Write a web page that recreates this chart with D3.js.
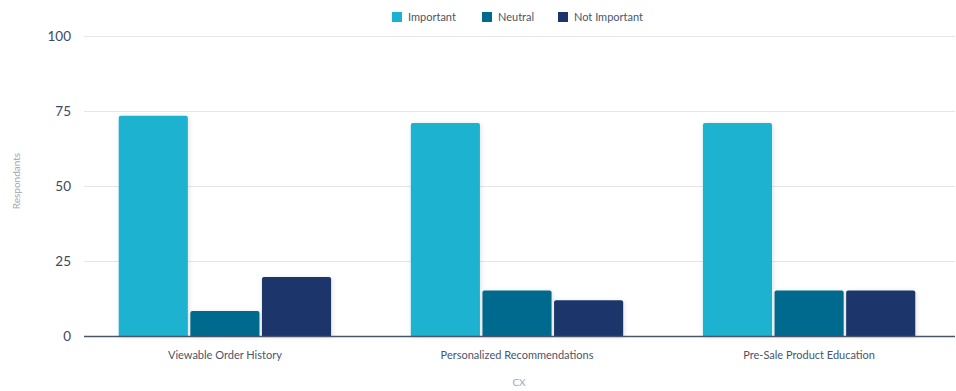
<!DOCTYPE html>
<html><head><meta charset="utf-8">
<script src="https://cdn.jsdelivr.net/npm/d3@7"></script>
<style>body{margin:0;background:#fff;font-family:Lato,"Open Sans",sans-serif;}</style>
</head><body><svg id="c" width="956" height="391"></svg>
<script>
const categories = ["Viewable Order History", "Personalized Recommendations", "Pre-Sale Product Education"];
const seriesNames = ["Important", "Neutral", "Not Important"];
const important = [73.4, 71.0, 71.0];
const neutral = [8.3, 15.2, 15.2];
const notImportant = [19.7, 11.9, 15.2];
const yTicks = [0, 25, 50, 75, 100];
const colors = ["#1ab2d0", "#006a8e", "#1c366b"];

const seriesValues = [important, neutral, notImportant];
const svg = d3.select("#c");
const W = 956, H = 391;
const m = {left: 79, right: 1, top: 36, bottom: 55};
const x0 = d3.scaleBand().domain(categories).range([m.left, W - m.right]).paddingInner(0.273).paddingOuter(0.136);
const x1 = d3.scaleBand().domain(seriesNames).range([0, x0.bandwidth()]).paddingInner(0.035);
const y = d3.scaleLinear().domain([0, 100]).range([H - m.bottom, m.top]);

const defs = svg.append("defs");
const f = defs.append("filter").attr("id","sh").attr("x","-20%").attr("y","-20%").attr("width","160%").attr("height","140%");
f.append("feDropShadow").attr("dx",1).attr("dy",1).attr("stdDeviation",2.5).attr("flood-color","#000").attr("flood-opacity",0.12);

// grid
const gx0 = 84;
svg.append("g").selectAll("line").data(yTicks.filter(d=>d>0)).join("line")
  .attr("x1", gx0).attr("x2", W - m.right).attr("y1", d=>y(d)+0.5).attr("y2", d=>y(d)+0.5)
  .attr("stroke", "#e6e6e6").attr("stroke-width", 1);

// y axis labels
const ya = svg.append("g").attr("transform", `translate(${gx0},0)`).call(d3.axisLeft(y).tickValues(yTicks).tickSize(0).tickPadding(13));
ya.select(".domain").remove();
ya.selectAll("text").attr("font-family","Lato, sans-serif").attr("font-size",13.5).attr("fill","#3d4a5c");

// bars
const groups = svg.append("g").selectAll("g").data(categories).join("g")
  .attr("transform", d=>`translate(${x0(d)},0)`);
function roundTop(xp, yp, w, h, r){
  r = Math.min(r, h, w/2);
  return `M${xp},${yp+h}V${yp+r}Q${xp},${yp} ${xp+r},${yp}H${xp+w-r}Q${xp+w},${yp} ${xp+w},${yp+r}V${yp+h}Z`;
}
groups.selectAll("path").data((d,i)=>seriesNames.map((s,j)=>({s, v: seriesValues[j][i], c: colors[j]}))).join("path")
  .attr("d", d=>roundTop(x1(d.s), y(d.v), x1.bandwidth(), y(0)-y(d.v), 2))
  .attr("fill", d=>d.c).attr("filter","url(#sh)");

// x axis
const xa = svg.append("g").attr("transform", `translate(0,${y(0)})`).call(d3.axisBottom(x0).tickSize(0).tickPadding(15));
xa.select(".domain").remove();
svg.append("line").attr("x1", gx0).attr("x2", W - m.right).attr("y1", y(0)+0.5).attr("y2", y(0)+0.5).attr("stroke","#4a5568").attr("stroke-width",1.5);
xa.selectAll("text").attr("font-family","Lato, sans-serif").attr("font-size",11).attr("fill","#4a5568");

// axis titles
svg.append("text").attr("x", 519).attr("y", 386).attr("text-anchor","middle").attr("font-size",10).attr("fill","#a0a8b0").text("CX");
svg.append("text").attr("transform","translate(20,181) rotate(-90)").attr("text-anchor","middle").attr("font-size",10).attr("fill","#a0a8b0").text("Respondants");

// legend
const legX = [392, 482, 558];
const lg = svg.append("g").selectAll("g").data(seriesNames).join("g").attr("transform",(d,i)=>`translate(${legX[i]},12)`);
lg.append("rect").attr("width",10).attr("height",10).attr("fill",(d,i)=>colors[i]);
lg.append("text").attr("x",16).attr("y",9).attr("font-size",11).attr("fill","#4a5568").text(d=>d);
</script></body></html>
